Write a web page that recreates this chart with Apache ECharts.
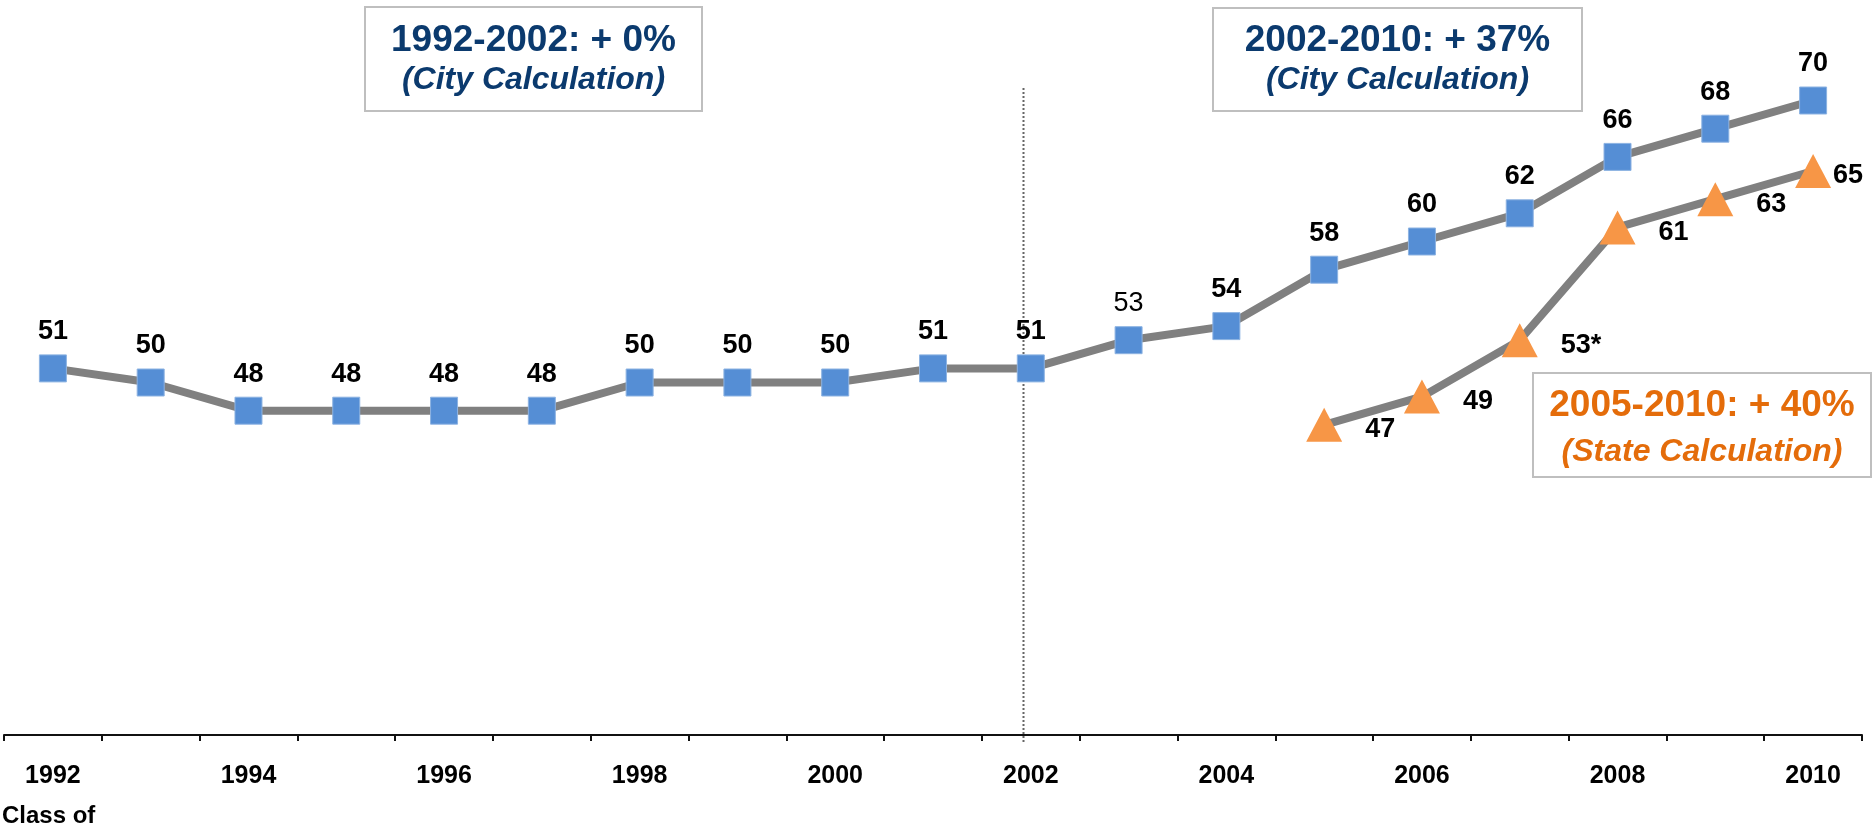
<!DOCTYPE html>
<html>
<head>
<meta charset="utf-8">
<script src="https://cdn.jsdelivr.net/npm/echarts@6/dist/echarts.min.js"></script>
<style>
  html, body {margin:0; padding:0; background:#fff;}
  #chart {width:1874px; height:829px;}
</style>
</head>
<body>
<div id="chart"></div>
<script>
// class years
var years = ['1992','1993','1994','1995','1996','1997','1998','1999','2000','2001',
             '2002','2003','2004','2005','2006','2007','2008','2009','2010'];
// city calculation
var cityRate = [51, 50, 48, 48, 48, 48, 50, 50, 50, 51, 51, 53, 54, 58, 60, 62, 66, 68, 70];
// state calculation (2005-2010 only)
var stateRate = [null, null, null, null, null, null, null, null, null, null,
                 null, null, null, 47, 49, 53, 61, 63, 65];
var stateLabels = ['', '', '', '', '', '', '', '', '', '', '', '', '', '47', '49', '53*', '61', '63', '65'];

var font = 'Liberation Sans, Arial, sans-serif';
var navy = '#0B3A6E';
var orangeTxt = '#E46C0A';

var chartDom = document.getElementById('chart');
var myChart = echarts.init(chartDom);

var cityData = cityRate.map(function (v, i) {
    if (years[i] === '2003') {
        return {value: v, label: {fontWeight: 'normal'}};   // 53 is not bold in the original
    }
    return v;
});

var stateData = stateRate.map(function (v, i) {
    if (v === null) return null;
    var item = {value: v};
    if (years[i] === '2010') item.label = {distance: 2};
    return item;
});

function box(x, y, w, h, l1, l2, y1, y2, color) {
    return [
        {type: 'rect', shape: {x: x, y: y, width: w, height: h},
         style: {fill: '#fff', stroke: '#BFBFBF', lineWidth: 2}},
        {type: 'text', x: x + w / 2, y: y1,
         style: {text: l1, fill: color, font: 'bold 37px ' + font, align: 'center', verticalAlign: 'middle'}},
        {type: 'text', x: x + w / 2, y: y2,
         style: {text: l2, fill: color, font: 'italic bold 32px ' + font, align: 'center', verticalAlign: 'middle'}}
    ];
}

var option = {
    animation: false,
    grid: {left: 4, right: 12, top: 30, bottom: 94, containLabel: false},
    xAxis: {
        type: 'category',
        data: years,
        boundaryGap: true,
        axisLine: {lineStyle: {color: '#111', width: 2}},
        axisTick: {show: true, interval: 0, length: 6, lineStyle: {color: '#111', width: 2}},
        axisLabel: {interval: 1, margin: 29, color: '#000', fontSize: 25, fontWeight: 'bold', fontFamily: font},
        splitLine: {show: false}
    },
    yAxis: {
        type: 'value', min: 25, max: 75,
        show: false
    },
    series: [
        {
            name: 'City',
            type: 'line',
            data: cityData,
            symbol: 'rect',
            symbolSize: 27,
            itemStyle: {color: '#558ED5', borderColor: '#8DB3E2', borderWidth: 1},
            lineStyle: {color: '#808080', width: 8},
            label: {show: true, position: 'top', distance: 9, color: '#000',
                    fontSize: 27, fontWeight: 'bold', fontFamily: font},
            z: 3
        },
        {
            name: 'State',
            type: 'line',
            data: stateData,
            connectNulls: false,
            symbol: 'triangle',
            symbolSize: [36, 34],
            itemStyle: {color: '#F79646'},
            lineStyle: {color: '#808080', width: 8},
            label: {show: true, position: 'right', distance: 23, offset: [0, 5], color: '#000',
                    fontSize: 27, fontWeight: 'bold', fontFamily: font,
                    formatter: function (p) { return stateLabels[p.dataIndex]; }},
            z: 3
        }
    ],
    graphic: []
};

myChart.setOption(option);

// dotted divider just left of the 2002 point
var xDiv = Math.round(myChart.convertToPixel({xAxisIndex: 0}, '2002')) - 8 + 0.5;
var g = [
    {type: 'line', shape: {x1: xDiv, y1: 88, x2: xDiv, y2: 742},
     style: {stroke: '#666', lineWidth: 2, lineDash: [2, 2]}, z: 1},
    {type: 'text', left: 2, top: 804,
     style: {text: 'Class of', fill: '#000', font: 'bold 24px ' + font}}
];
g = g.concat(box(365, 7, 337, 104, '1992-2002: + 0%', '(City Calculation)', 41, 80, navy));
g = g.concat(box(1213, 8, 369, 103, '2002-2010: + 37%', '(City Calculation)', 41, 80, navy));
g = g.concat(box(1533, 373, 338, 104, '2005-2010: + 40%', '(State Calculation)', 406, 452, orangeTxt));

myChart.setOption({graphic: g});
</script>
</body>
</html>
